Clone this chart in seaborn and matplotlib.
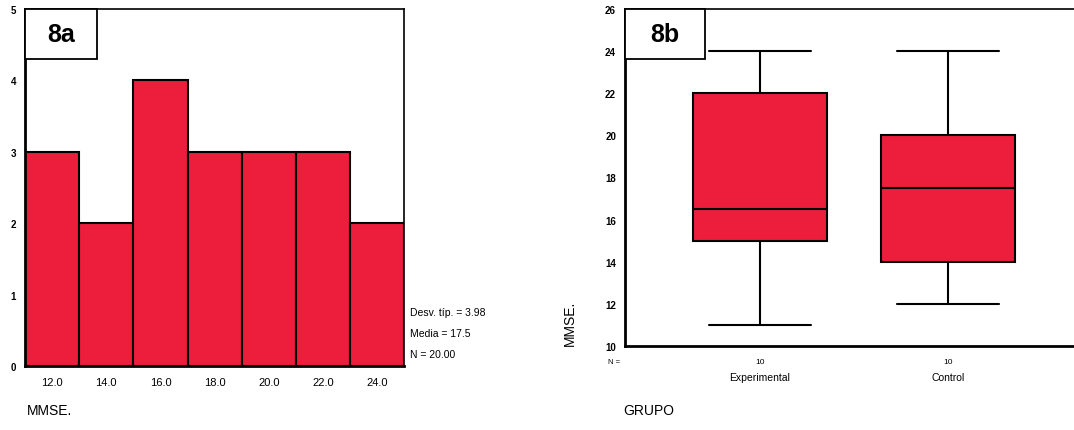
import matplotlib
matplotlib.use("Agg")
import matplotlib.pyplot as plt
import matplotlib.transforms as mtransforms
from matplotlib.patches import Rectangle
import seaborn as sns
import pandas as pd

# datos del histograma (8a)
bin_centros = [12, 14, 16, 18, 20, 22, 24]
frecuencias = [3, 2, 4, 3, 3, 3, 2]
bordes = [11, 13, 15, 17, 19, 21, 23, 25]
estadisticos = ["Desv. típ. = 3.98", "Media = 17.5", "N = 20.00"]

# datos del diagrama de caja (8b), valores que reproducen las cajas
grupos = ["Experimental", "Control"]
mmse_experimental = [11, 14, 15, 15, 16, 17, 22, 22, 22, 24]
mmse_control = [12, 13, 14, 14, 17, 18, 20, 20, 20, 24]
n_grupo = [10, 10]

rojo = "#EC1E3C"

sns.set_style("white")
plt.rcParams['font.family'] = ['Liberation Sans', 'DejaVu Sans']
plt.rcParams['text.color'] = 'black'
plt.rcParams['axes.labelcolor'] = 'black'
plt.rcParams['xtick.color'] = 'black'
plt.rcParams['ytick.color'] = 'black'

fig = plt.figure(figsize=(10.74, 4.31), dpi=100)


def etiqueta_panel(ax, texto, ancho, alto):
    ax.add_patch(Rectangle((0, 1 - alto), ancho, alto, transform=ax.transAxes,
                           facecolor="white", edgecolor="black", linewidth=1.3,
                           zorder=5, clip_on=False))
    ax.text(ancho / 2, 1 - alto / 2, texto, transform=ax.transAxes, ha="center",
            va="center", fontsize=18, fontweight="bold", zorder=6)


# Histograma 8a
ax1 = fig.add_axes([0.0233, 0.1485, 0.353, 0.8285])
sns.histplot(x=bin_centros, weights=frecuencias, bins=bordes, color=rojo,
             alpha=1, edgecolor="black", linewidth=1.5, ax=ax1)
ax1.set_xlim(11, 25)
ax1.set_ylim(0, 5)
ax1.set_xticks(bin_centros)
ax1.set_xticklabels([f"{v:.1f}" for v in bin_centros], fontsize=8)
ax1.set_yticks(range(6))
ax1.set_yticklabels([str(v) for v in range(6)], fontsize=7, fontweight="bold")
ax1.tick_params(axis="both", direction="out", length=3, width=1.2)
ax1.tick_params(axis="x", pad=5)
ax1.set_xlabel("")
ax1.set_ylabel("")
for s in ax1.spines.values():
    s.set_color("black")
    s.set_linewidth(1.2)
ax1.spines["bottom"].set_linewidth(2)
ax1.spines["left"].set_linewidth(2)
etiqueta_panel(ax1, "8a", 0.19, 0.14)
for i, t in enumerate(estadisticos):
    fig.text(410 / 1074, 1 - (313 + i * 21) / 431, t, fontsize=7.5, va="center", ha="left")
fig.text(27 / 1074, 1 - 411 / 431, "MMSE.", fontsize=10, ha="left", va="center")

# Diagrama de caja 8b
df = pd.DataFrame({
    "GRUPO": [grupos[0]] * len(mmse_experimental) + [grupos[1]] * len(mmse_control),
    "MMSE": mmse_experimental + mmse_control,
})
ax2 = fig.add_axes([0.582, 0.195, 0.418, 0.782])
sns.boxplot(data=df, x="GRUPO", y="MMSE", order=grupos, color=rojo, saturation=1,
            width=0.71, linecolor="black", linewidth=1.5, whis=1.5, ax=ax2)
# ensanchar los topes de los bigotes
for ln in ax2.lines:
    xs = list(ln.get_xdata())
    ys = list(ln.get_ydata())
    if len(xs) == 2 and ys[0] == ys[1] and (ys[0] in (11, 24, 12)):
        c = (xs[0] + xs[1]) / 2
        ln.set_xdata([c - 0.27, c + 0.27])
ax2.set_xlim(-0.718, 1.67)
ax2.set_ylim(10, 26)
ax2.set_yticks(range(10, 27, 2))
ax2.set_yticklabels([str(v) for v in range(10, 27, 2)], fontsize=7, fontweight="bold")
ax2.set_xticks([0, 1])
ax2.set_xticklabels(grupos, fontsize=7.5)
ax2.tick_params(axis="y", direction="out", length=3, width=1.2)
ax2.tick_params(axis="x", direction="out", length=3, width=1.2, pad=16)
ax2.set_xlabel("")
ax2.set_ylabel("MMSE.", fontsize=10)
ax2.yaxis.set_label_coords(-0.107, 0.07)
for s in ax2.spines.values():
    s.set_color("black")
    s.set_linewidth(1.2)
ax2.spines["right"].set_visible(False)
ax2.spines["bottom"].set_linewidth(2)
ax2.spines["left"].set_linewidth(2)
trans = mtransforms.blended_transform_factory(ax2.transData, ax2.transAxes)
for i, n in enumerate(n_grupo):
    ax2.text(i, -0.045, str(n), transform=trans, fontsize=6, ha="center", va="center")
ax2.text(-0.01, -0.045, "N =", transform=ax2.transAxes, fontsize=5.5, ha="right", va="center")
etiqueta_panel(ax2, "8b", 0.178, 0.148)
fig.text(623 / 1074, 1 - 411 / 431, "GRUPO", fontsize=10, ha="left", va="center")

fig.savefig("out.png", dpi=100)
